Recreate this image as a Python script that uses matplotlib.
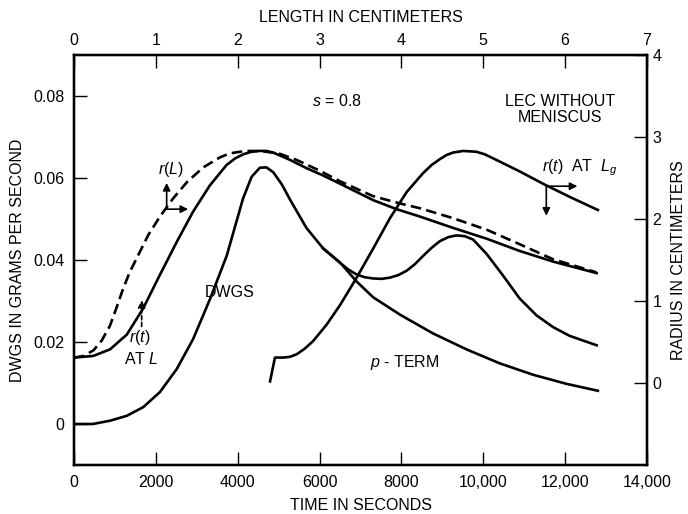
import matplotlib
matplotlib.use("Agg")
import matplotlib.pyplot as plt

plt.rcParams['font.family'] = ['Liberation Sans', 'DejaVu Sans']
plt.rcParams['font.size'] = 11.5
plt.rcParams['mathtext.fontset'] = 'custom'
plt.rcParams['mathtext.rm'] = 'Liberation Sans'
plt.rcParams['mathtext.it'] = 'Liberation Sans:italic'

# ---------- data ----------
# DWGS (grams per second) vs time (s)
dwgs_t = [0, 460, 880, 1290, 1690, 2100, 2510, 2910, 3320, 3730, 3930, 4130,
          4340, 4540, 4700, 4870, 5080, 5280, 5680, 6090, 6500, 6700, 6900,
          7100, 7310, 7520, 7720, 7920, 8130, 8330, 8530, 8740, 8940, 9150,
          9350, 9550, 9750, 10080, 10490, 10890, 11300, 11710, 12110, 12770]
dwgs_v = [0, 0, 0.0008, 0.0020, 0.0041, 0.0078, 0.0134, 0.0207, 0.0304,
          0.0410, 0.0480, 0.0550, 0.0603, 0.0625, 0.0626, 0.0614, 0.0584,
          0.0547, 0.0478, 0.0428, 0.0393, 0.0377, 0.0365, 0.0358, 0.0355,
          0.0354, 0.0357, 0.0363, 0.0374, 0.0390, 0.0410, 0.0430, 0.0446,
          0.0456, 0.0460, 0.0458, 0.0450, 0.0415, 0.0361, 0.0306, 0.0265,
          0.0236, 0.0215, 0.0192]

# p-term (grams per second) vs time (s)
pterm_t = [6090, 6500, 6900, 7310, 7960, 8770, 9590, 10400, 11220, 12030, 12800]
pterm_v = [0.0428, 0.0394, 0.0348, 0.0309, 0.0267, 0.0221, 0.0182, 0.0148,
           0.0120, 0.0098, 0.0081]

# r(t) at L (cm) vs time (s)
rtl_t = [0, 470, 880, 1290, 1690, 2100, 2510, 2910, 3320, 3730, 3940, 4140,
         4340, 4540, 4700, 4870, 5280, 5680, 6090, 6500, 7310, 7880, 8450,
         9270, 10080, 10890, 11710, 12770]
rtl_r = [0.31, 0.33, 0.41, 0.59, 0.91, 1.32, 1.72, 2.09, 2.41, 2.66, 2.74,
         2.79, 2.82, 2.83, 2.83, 2.81, 2.72, 2.62, 2.53, 2.43, 2.23, 2.12,
         2.03, 1.89, 1.76, 1.61, 1.48, 1.34]

# r(L) (cm) vs length (cm)
rl_len = [0, 0.12, 0.24, 0.34, 0.44, 0.52, 0.60, 0.68, 0.77, 0.91, 1.05, 1.21,
          1.38, 1.58, 1.78, 1.90, 2.03, 2.15, 2.27, 2.50, 2.72, 3.00, 3.25,
          3.65, 3.98, 4.23, 4.63, 5.04, 5.45, 5.85, 6.38]
rl_r = [0.31, 0.33, 0.40, 0.52, 0.70, 0.92, 1.15, 1.35, 1.53, 1.81, 2.03,
        2.25, 2.45, 2.63, 2.75, 2.80, 2.82, 2.83, 2.83, 2.80, 2.72, 2.59,
        2.46, 2.28, 2.19, 2.13, 2.01, 1.87, 1.69, 1.51, 1.35]

# r(t) at Lg (cm) vs time (s)
rtlg_t = [4790, 4910, 5110, 5280, 5440, 5640, 5840, 6170, 6500, 6900, 7310,
          7720, 8130, 8530, 8740, 8940, 9100, 9260, 9510, 9830, 10030, 10240,
          10890, 11460, 12110, 12800]
rtlg_r = [0.02, 0.31, 0.31, 0.32, 0.35, 0.42, 0.51, 0.71, 0.95, 1.28, 1.64,
          2.01, 2.33, 2.56, 2.66, 2.73, 2.78, 2.81, 2.83, 2.82, 2.79, 2.74,
          2.58, 2.43, 2.27, 2.11]

time_ticks = [0, 2000, 4000, 6000, 8000, 10000, 12000, 14000]
time_labels = ['0', '2000', '4000', '6000', '8000', '10,000', '12,000', '14,000']
dwgs_ticks = [0, 0.02, 0.04, 0.06, 0.08]
dwgs_labels = ['0', '0.02', '0.04', '0.06', '0.08']
radius_ticks = [0, 1, 2, 3, 4]
length_ticks = [0, 1, 2, 3, 4, 5, 6, 7]

LW = 1.9
TICK = dict(direction='in', length=9.5, width=1.0, colors='black')

# ---------- figure ----------
fig = plt.figure(figsize=(6.88, 5.14), dpi=100)
ax = fig.add_axes([74 / 688, 1 - 465 / 514, 573 / 688, 410 / 514])
axr = ax.twinx()
axl = axr.twiny()

ax.set_xlim(0, 14000)
ax.set_ylim(-0.01, 0.09)
axr.set_ylim(-1, 4)
axl.set_xlim(0, 7)

ax.plot(dwgs_t, dwgs_v, color='black', lw=LW)
ax.plot(pterm_t, pterm_v, color='black', lw=LW)
axr.plot(rtl_t, rtl_r, color='black', lw=LW)
axr.plot(rtlg_t, rtlg_r, color='black', lw=LW)
axl.plot(rl_len, rl_r, color='black', lw=LW, ls=(0, (4, 2)))

ax.set_xticks(time_ticks, time_labels)
ax.set_yticks(dwgs_ticks, dwgs_labels)
axr.set_yticks(radius_ticks, [str(v) for v in radius_ticks])
axl.set_xticks(length_ticks, [str(v) for v in length_ticks])

ax.tick_params(axis='both', top=False, right=False, pad=7, **TICK)
axr.tick_params(axis='y', pad=4, **TICK)
axl.tick_params(axis='x', pad=5, **TICK)

for a in (ax, axr, axl):
    for s in a.spines.values():
        s.set_linewidth(1.6)

ax.set_xlabel('TIME IN SECONDS', labelpad=6)
ax.set_ylabel('DWGS IN GRAMS PER SECOND', labelpad=6)
axr.set_ylabel('RADIUS IN CENTIMETERS', labelpad=7)
axl.set_xlabel('LENGTH IN CENTIMETERS', labelpad=8)

# ---------- annotations ----------
arr = dict(arrowstyle='-|>', color='black', lw=1.2, mutation_scale=11,
           shrinkA=0, shrinkB=0)

ax.text(6420, 0.0788, '$s$ = 0.8', ha='center', va='center')
ax.text(11870, 0.0767, 'LEC WITHOUT\nMENISCUS', ha='center', va='center',
        linespacing=1.15)
ax.text(3810, 0.0321, 'DWGS', ha='center', va='center')
ax.text(8080, 0.0151, '$p$ - TERM', ha='center', va='center')

ax.text(2370, 0.0620, '$r(L)$', ha='center', va='center')
ax.annotate('', xy=(2264, 0.0588), xytext=(2264, 0.0524), arrowprops=arr)
ax.annotate('', xy=(2790, 0.0524), xytext=(2264, 0.0524), arrowprops=arr)

ax.text(1610, 0.0212, '$r(t)$', ha='center', va='center')
ax.text(1640, 0.0158, 'AT $L$', ha='center', va='center')
ax.annotate('', xy=(1653, 0.0302), xytext=(1653, 0.0238),
            arrowprops=dict(arr, ls=(0, (2.5, 1.5))))

ax.text(12360, 0.0625, '$r(t)$  AT  $L_g$', ha='center', va='center')
ax.annotate('', xy=(12300, 0.0580), xytext=(11540, 0.0580), arrowprops=arr)
ax.annotate('', xy=(11540, 0.0508), xytext=(11540, 0.0580), arrowprops=arr)

fig.savefig('out.png', dpi=100, facecolor='white')
